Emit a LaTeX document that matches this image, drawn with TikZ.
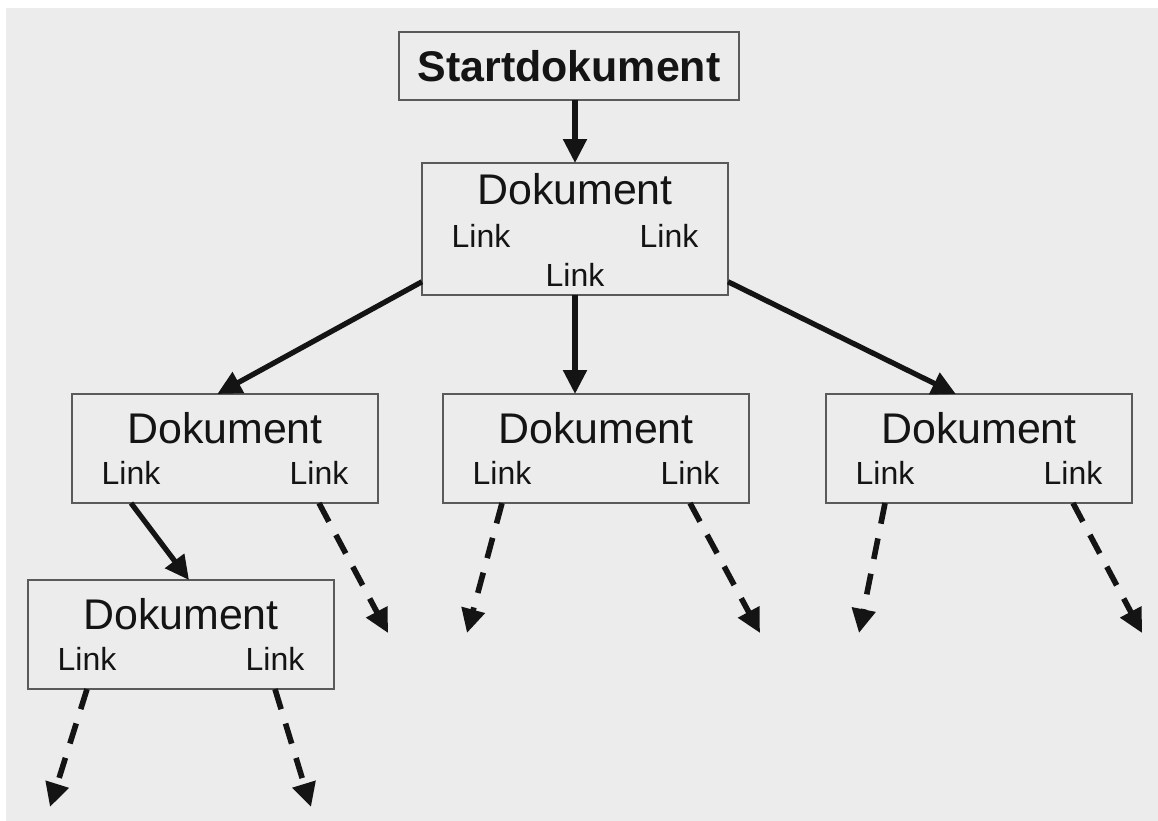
\documentclass[tikz,border=0pt]{standalone}
\usepackage{fontspec}
\setmainfont{Liberation Sans}
\usetikzlibrary{arrows.meta}

\definecolor{bggray}{HTML}{ECECEC}
\definecolor{framegray}{HTML}{5A5A5A}
\definecolor{ink}{HTML}{141414}

\tikzset{
	docbox/.style={draw=framegray, line width=0.6pt, fill=bggray, minimum width=3.06cm, minimum height=1.09cm, inner sep=0, outer sep=0},
	doctitle/.style={anchor=base, inner sep=0, text=ink, font=\fontsize{12.2}{14}\selectfont},
	linktext/.style={anchor=base, inner sep=0, text=ink, font=\fontsize{9.1}{11}\selectfont},
	linkarrow/.style={draw=ink, line width=1.5pt, -{Triangle[length=0.24cm,width=0.23cm]}},
	deadlink/.style={linkarrow, line width=1.6pt, dash pattern=on 0.21cm off 0.15cm}
}

\begin{document}
\begin{tikzpicture}[x=0.01cm, y=-0.01cm]

\useasboundingbox (0,0) rectangle (1158,820);
\fill[bggray] (6,8) rectangle (1164,826);

\node[docbox, minimum width=3.40cm, minimum height=0.68cm, text=ink, font=\fontsize{12.2}{14}\selectfont\bfseries] (start) at (569,66) {Startdokument};

\node[docbox, anchor=north, minimum height=1.32cm] (d0) at (575,163) {};
\node[doctitle] (d0-t) at (575,204) {Dokument};
\node[linktext] (d0-a) at (481,247) {Link};
\node[linktext] (d0-b) at (669,247) {Link};
\node[linktext] (d0-c) at (575,286) {Link};

\foreach \n/\x/\y in {d1/225/394, d2/596/394, d3/979/394, d4/181/580}{
	\node[docbox, anchor=north] (\n) at (\x,\y) {};
	\node[doctitle] (\n-t) at (\x,\y+49) {Dokument};
	\node[linktext] (\n-a) at (\x-94,\y+90) {Link};
	\node[linktext] (\n-b) at (\x+94,\y+90) {Link};
}

\coordinate (e1) at (388,633);
\coordinate (e2) at (467,633);
\coordinate (e3) at (760,633);
\coordinate (e4) at (859,633);
\coordinate (e5) at (1142,633);
\coordinate (e6) at (50,807);
\coordinate (e7) at (311,807);

\draw[linkarrow] (start.south -| d0) -- (d0.north);
\draw[linkarrow] (d0.199) -- (d1.98);
\draw[linkarrow] (d0-c |- d0.south) -- (d0-c |- d2.north);
\draw[linkarrow] (d0.341) -- (d3.113);
\draw[linkarrow] (d1-a |- d1.south) -- ([xshift=0.08cm]d4.north);

\foreach \n/\k/\e in {d1/b/e1, d2/a/e2, d2/b/e3, d3/a/e4, d3/b/e5, d4/a/e6, d4/b/e7}
	\draw[deadlink] (\n-\k |- \n.south) -- (\e);

\end{tikzpicture}
\end{document}
